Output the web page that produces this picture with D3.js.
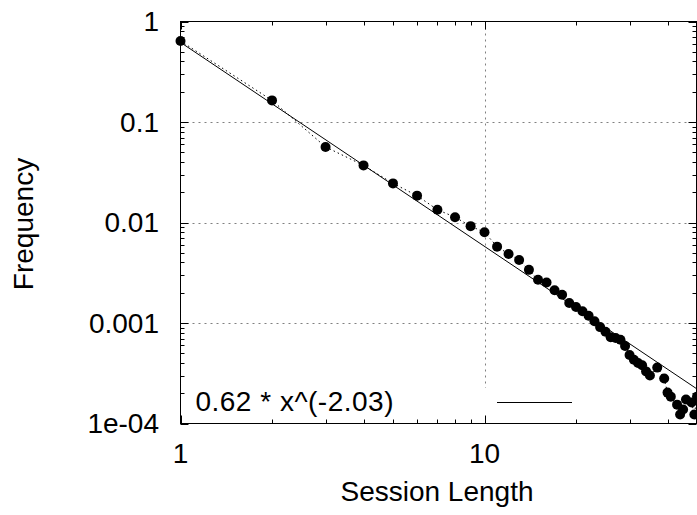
<!DOCTYPE html>
<html>
<head>
<meta charset="utf-8">
<script src="https://cdn.jsdelivr.net/npm/d3@7"></script>
<style>
  html, body { margin: 0; padding: 0; background: #fff; }
  svg { display: block; }
  text { font-family: "Liberation Sans", Arial, Helvetica, sans-serif; fill: #000; }
</style>
</head>
<body>
<svg id="chart" width="697" height="515"></svg>
<script>
// ---- data ----
const sessionLength = [1,2,3,4,5,6,7,8,9,10,11,12,13,14,15,16,17,18,19,20,21,22,23,24,25,26,27,28,29,30,31,32,33,34,35,37,39,40,41,43,44,45,46,48,49,50];
const frequency = [0.64,0.164,0.0565,0.037,0.0245,0.0185,0.0134,0.0113,0.0092,0.0080,0.00575,0.00486,0.00424,0.00338,0.00269,0.00253,0.00212,0.00191,0.00158,0.00144,0.00131,0.00118,0.00104,0.00091,0.00082,0.00072,0.00071,0.00068,0.00059,0.00048,0.00043,0.00040,0.00038,0.00033,0.00030,0.00036,0.00028,0.000203,0.000185,0.000154,0.000123,0.000138,0.000173,0.000162,0.000123,0.000185];
const fitCoef = 0.62;
const fitExp = -2.03;
const fitLabel = "0.62 * x^(-2.03)";
const xTickValues = [1, 10];
const xTickLabels = ["1", "10"];
const yTickValues = [1, 0.1, 0.01, 0.001, 0.0001];
const yTickLabels = ["1", "0.1", "0.01", "0.001", "1e-04"];
const xGridValues = [10];
const yGridValues = [0.1, 0.01, 0.001];
const xLabel = "Session Length";
const yLabel = "Frequency";

// ---- layout ----
const L = 180.5, R = 696.5, T = 21.5, B = 423.5;
const svg = d3.select("#chart");
const x = d3.scaleLog().domain([1, 50]).range([L, R + 0.5]);
const y = d3.scaleLog().domain([1e-4, 1]).range([B, T]);
const FS = 28;

svg.append("rect").attr("width", 697).attr("height", 515).attr("fill", "#fff");

// grid
const grid = svg.append("g").attr("stroke", "#808080").attr("stroke-width", 1).attr("stroke-dasharray", "2,4");
grid.selectAll("line.h").data(yGridValues).join("line")
  .attr("x1", L).attr("x2", R)
  .attr("y1", d => Math.round(y(d)) + 0.5).attr("y2", d => Math.round(y(d)) + 0.5);
grid.selectAll("line.v").data(xGridValues).join("line")
  .attr("x1", d => Math.round(x(d)) + 0.5).attr("x2", d => Math.round(x(d)) + 0.5)
  .attr("y1", T).attr("y2", 388);

// minor / major ticks
const xMinor = [];
for (let d = 1; d <= 10; d *= 10) for (let k = 2; k <= 9; k++) if (d * k < 50) xMinor.push(d * k);
const yMinor = [];
for (let e = -4; e < 0; e++) for (let k = 2; k <= 9; k++) yMinor.push(k * Math.pow(10, e));

const axisG = svg.append("g").attr("stroke", "#000").attr("stroke-width", 1);
function tickLines(vals, len, horizontal) {
  vals.forEach(v => {
    if (horizontal) {
      const px = Math.round(x(v)) + 0.5;
      axisG.append("line").attr("x1", px).attr("x2", px).attr("y1", B).attr("y2", B - len);
      axisG.append("line").attr("x1", px).attr("x2", px).attr("y1", T).attr("y2", T + len);
    } else {
      const py = Math.round(y(v)) + 0.5;
      axisG.append("line").attr("x1", L).attr("x2", L + len).attr("y1", py).attr("y2", py);
      axisG.append("line").attr("x1", R).attr("x2", R - len).attr("y1", py).attr("y2", py);
    }
  });
}
tickLines(xMinor, 4, true);
tickLines(xTickValues, 8, true);
tickLines(yMinor, 4, false);
tickLines(yTickValues, 8, false);

// border
svg.append("rect").attr("x", L).attr("y", T).attr("width", R - L).attr("height", B - T)
  .attr("fill", "none").attr("stroke", "#000").attr("stroke-width", 1);

// tick labels
svg.append("g").selectAll("text").data(xTickValues).join("text")
  .attr("x", d => x(d)).attr("y", 463)
  .attr("text-anchor", "middle").attr("font-size", FS)
  .text((d, i) => xTickLabels[i]);
svg.append("g").selectAll("text").data(yTickValues).join("text")
  .attr("x", 159).attr("y", d => y(d)).attr("dy", "0.35em")
  .attr("text-anchor", "end").attr("font-size", FS)
  .text((d, i) => yTickLabels[i]);

// axis titles
svg.append("text").attr("x", 437).attr("y", 501)
  .attr("text-anchor", "middle").attr("font-size", FS).text(xLabel);
svg.append("text").attr("transform", "translate(33,224) rotate(-90)")
  .attr("text-anchor", "middle").attr("font-size", FS).text(yLabel);

// clip
svg.append("clipPath").attr("id", "clip").append("rect")
  .attr("x", 0).attr("y", 0).attr("width", 697).attr("height", B + 6);

const data = sessionLength.map((s, i) => ({ x: s, y: frequency[i] }));

// fit line
const fitPts = [1, 50].map(v => ({ x: v, y: fitCoef * Math.pow(v, fitExp) }));
const line = d3.line().x(d => x(d.x)).y(d => y(d.y));
svg.append("path").datum(fitPts).attr("d", line)
  .attr("fill", "none").attr("stroke", "#000").attr("stroke-width", 1);

// data dotted line
svg.append("path").datum(data).attr("d", line).attr("clip-path", "url(#clip)")
  .attr("fill", "none").attr("stroke", "#000").attr("stroke-width", 1).attr("stroke-dasharray", "1.5,3");

// points
svg.append("g").attr("clip-path", "url(#clip)").selectAll("circle").data(data).join("circle")
  .attr("cx", d => x(d.x)).attr("cy", d => y(d.y)).attr("r", 5).attr("fill", "#000");

// key
svg.append("text").attr("x", 394).attr("y", 411).attr("text-anchor", "end")
  .attr("font-size", FS).attr("letter-spacing", "0.5px").text(fitLabel);
svg.append("line").attr("x1", 497).attr("x2", 572).attr("y1", 402.5).attr("y2", 402.5)
  .attr("stroke", "#000").attr("stroke-width", 1);
</script>
</body>
</html>
